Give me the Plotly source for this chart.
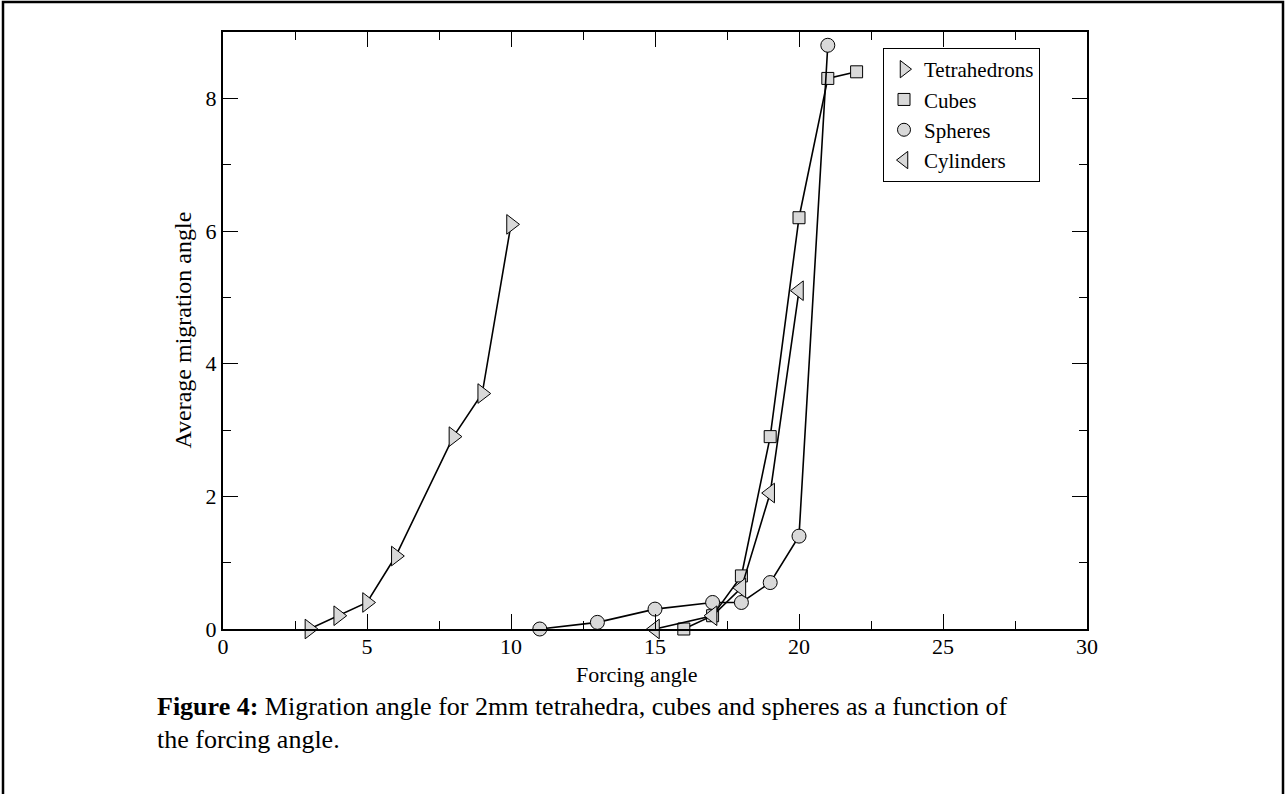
import plotly.graph_objects as go

# ---- data ----
tetra_x = [3, 4, 5, 6, 8, 9, 10]
tetra_y = [0.0, 0.2, 0.4, 1.1, 2.9, 3.55, 6.1]

cubes_x = [16, 17, 18, 19, 20, 21, 22]
cubes_y = [0.0, 0.2, 0.8, 2.9, 6.2, 8.3, 8.4]

spheres_x = [11, 13, 15, 17, 18, 19, 20, 21]
spheres_y = [0.0, 0.1, 0.3, 0.4, 0.4, 0.7, 1.4, 8.8]

cyl_x = [15, 17, 18, 19, 20]
cyl_y = [0.0, 0.2, 0.62, 2.05, 5.1]

x_ticks = [0, 5, 10, 15, 20, 25, 30]
y_ticks = [0, 2, 4, 6, 8]

FONT = "Liberation Serif, Times New Roman, serif"
FILL = "#d9d9d9"

# plot area in pixels
W, H = 1288, 794
L, R, T, B = 223, 1087, 32, 629


def px(x):
    return (x - L) / (R - L)


def py(y):
    return (B - y) / (B - T)


fig = go.Figure()

series = [
    ("Tetrahedrons", tetra_x, tetra_y, "triangle-right", 17, 15),
    ("Cubes", cubes_x, cubes_y, "square", 12, 12),
    ("Spheres", spheres_x, spheres_y, "circle", 14, 13),
    ("Cylinders", cyl_x, cyl_y, "triangle-left", 17, 15),
]
for name, xs, ys, sym, size, lsize in series:
    fig.add_trace(go.Scatter(
        x=xs, y=ys, name=name, mode="lines+markers", showlegend=False,
        legendgroup=name,
        line=dict(color="black", width=1.6),
        marker=dict(symbol=sym, size=size, color=FILL,
                    line=dict(color="black", width=1)),
        cliponaxis=False,
    ))
    # legend entry: symbol only (no line), as in the reference
    fig.add_trace(go.Scatter(
        x=[None], y=[None], name=name, mode="markers", legendgroup=name,
        marker=dict(symbol=sym, size=lsize, color=FILL,
                    line=dict(color="black", width=1)),
    ))

axis_common = dict(
    showgrid=False, zeroline=False, showline=True, linecolor="black",
    linewidth=2, mirror="allticks", ticks="inside", tickcolor="black",
    tickwidth=1, ticklen=15,
    tickfont=dict(family=FONT, size=22, color="black"),
)

fig.update_xaxes(
    range=[0, 30], tickvals=x_ticks, ticktext=[str(v) for v in x_ticks],
    minor=dict(dtick=2.5, tick0=0, ticks="inside", ticklen=8,
               tickcolor="black", tickwidth=1),
    ticklabelstandoff=-3,
    **axis_common,
)
fig.update_yaxes(
    range=[0, 9], tickvals=y_ticks, ticktext=[str(v) for v in y_ticks],
    minor=dict(dtick=1, tick0=0, ticks="inside", ticklen=8,
               tickcolor="black", tickwidth=1),
    **axis_common,
)

annotations = [
    dict(text="Forcing angle", x=px(637), y=py(674), xref="paper", yref="paper",
         showarrow=False, xanchor="center", yanchor="middle",
         font=dict(family=FONT, size=22, color="black")),
    dict(text="Average migration angle", x=px(182), y=0.5, xref="paper",
         yref="paper", showarrow=False, textangle=-90, xanchor="center",
         yanchor="middle", font=dict(family=FONT, size=24, color="black")),
    dict(text="<b>Figure 4:</b> Migration angle for 2mm tetrahedra, cubes and spheres as a function of",
         x=px(155), y=py(707), xref="paper", yref="paper", showarrow=False,
         xanchor="left", yanchor="middle",
         font=dict(family=FONT, size=26, color="black")),
    dict(text="the forcing angle.",
         x=px(155), y=py(739), xref="paper", yref="paper", showarrow=False,
         xanchor="left", yanchor="middle",
         font=dict(family=FONT, size=26, color="black")),
]

shapes = [
    dict(type="rect", xref="paper", yref="paper",
         x0=px(3), x1=px(1283), y0=py(2), y1=py(820),
         line=dict(color="black", width=2.5), fillcolor="rgba(0,0,0,0)"),
]

fig.update_layout(
    width=W, height=H,
    margin=dict(l=L, r=W - R, t=T, b=H - B, autoexpand=False),
    paper_bgcolor="white", plot_bgcolor="white",
    font=dict(family=FONT, color="black"),
    showlegend=True,
    legend=dict(
        x=px(883), y=py(48), xanchor="left", yanchor="top",
        bgcolor="white", bordercolor="black", borderwidth=1,
        font=dict(family=FONT, size=21, color="black"),
        itemwidth=30, tracegroupgap=0, itemsizing="trace",
    ),
    annotations=annotations,
    shapes=shapes,
)

fig.write_html("out.html")
